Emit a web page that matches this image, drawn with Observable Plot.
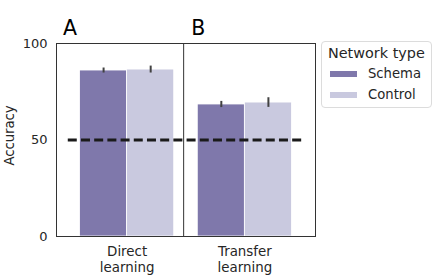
<!DOCTYPE html>
<html>
<head>
<meta charset="utf-8">
<script src="https://cdn.jsdelivr.net/npm/d3@7"></script>
<script src="https://cdn.jsdelivr.net/npm/@observablehq/plot@0.6"></script>
<style>
  html, body { margin: 0; padding: 0; background: #fff; }
  #wrap { position: relative; width: 436px; height: 279px; font-family: "DejaVu Sans", sans-serif; }
  #legend { position: absolute; left: 321px; top: 41px; width: 111px; height: 67px;
    border: 1px solid #dcdcdc; border-radius: 4px; box-sizing: border-box; color: #262626; }
  #legend .title { position: absolute; left: 6px; top: 3px; font-size: 14.4px; line-height: 17px; }
  #legend .item { position: absolute; left: 8px; font-size: 13.2px; line-height: 16px; display: flex; align-items: center; }
  #legend .sw { width: 27px; height: 6px; margin-right: 11px; }
</style>
</head>
<body>
<div id="wrap"></div>
<script>
const categories = ["Direct\nlearning", "Transfer\nlearning"];
const series = ["Schema", "Control"];
const schemaValues = [86.0, 68.4];
const controlValues = [86.5, 69.4];
const schemaErrors = [1.3, 1.6];
const controlErrors = [1.8, 2.5];
const colors = ["#7f78ab", "#c9c9df"];
const chanceLevel = 50;
const yTicks = [0, 50, 100];
const panelLabels = ["A", "B"];
const panelLabelX = [-0.545, 0.545];
const dividerAt = 0.48;

const rows = [];
categories.forEach((c, i) => {
  rows.push({ci: i, s: 0, series: "Schema", v: schemaValues[i], e: schemaErrors[i]});
  rows.push({ci: i, s: 1, series: "Control", v: controlValues[i], e: controlErrors[i]});
});
const bw = 0.4;

const plot = Plot.plot({
  width: 436, height: 279,
  marginLeft: 56, marginRight: 121, marginTop: 43, marginBottom: 43,
  style: {fontFamily: "DejaVu Sans, sans-serif", fontSize: "13px", color: "#262626", background: "white", overflow: "visible"},
  x: {type: "linear", domain: [-0.6, 1.6]},
  y: {domain: [0, 100]},
  color: {domain: series, range: colors},
  marks: [
    Plot.rectY(rows, {x1: d => d.ci + (d.s - 1) * bw, x2: d => d.ci + d.s * bw, y1: 0, y2: "v",
      fill: "series", stroke: "white", strokeWidth: 0.8}),
    Plot.ruleX(rows, {x: d => d.ci + (d.s - 0.5) * bw, y1: d => d.v - d.e, y2: d => d.v + d.e,
      stroke: "#424242", strokeWidth: 2}),
    Plot.ruleY([chanceLevel], {x1: -0.5, x2: 1.5, stroke: "#1a1a1a", strokeWidth: 2.8, strokeDasharray: "9,4.2"}),
    Plot.ruleX([dividerAt], {stroke: "#333", strokeWidth: 1}),
    Plot.frame({stroke: "#333", strokeWidth: 1}),
    Plot.axisY({ticks: yTicks, tickSize: 0, tickPadding: 9, fontSize: 13, label: null}),
    Plot.text(["Accuracy"], {frameAnchor: "left", dx: -43, dy: -4.5, rotate: -90, fontSize: 13.2,
      fill: "#262626", lineAnchor: "bottom", textAnchor: "middle", text: d => d}),
    Plot.axisX({ticks: [0, 1], tickSize: 0, tickPadding: 8, fontSize: 13.4, lineHeight: 1.2,
      tickFormat: i => categories[i], label: null}),
    Plot.text(panelLabels, {x: (d, i) => panelLabelX[i], y: 100, text: d => d, dy: -9,
      lineAnchor: "bottom", textAnchor: "start", fontSize: 20.5, fill: "#000"})
  ]
});
const wrap = document.getElementById("wrap");
wrap.appendChild(plot);

const leg = document.createElement("div");
leg.id = "legend";
let html = '<div class="title">Network type</div>';
series.forEach((s, i) => {
  html += `<div class="item" style="top:${24 + i * 21}px"><span class="sw" style="background:${colors[i]}"></span>${s}</div>`;
});
leg.innerHTML = html;
wrap.appendChild(leg);
</script>
</body>
</html>
